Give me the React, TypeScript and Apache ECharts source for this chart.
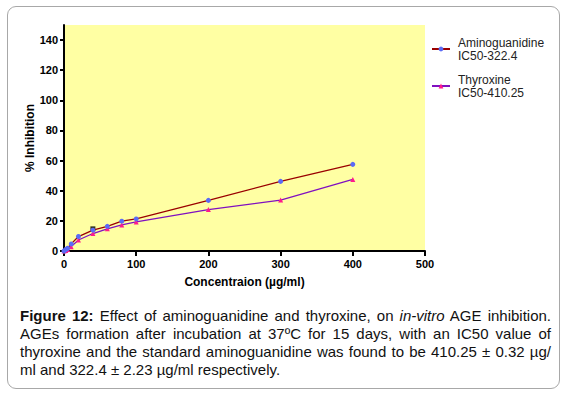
import React, { useEffect, useRef } from "react";
import * as echarts from "echarts";

const concentrations = [0, 2.5, 5, 10, 20, 40, 60, 80, 100, 200, 300, 400];
const aminoguanidine = [0, 1, 1.8, 4.7, 9.6, 13.8, 16.4, 19.8, 21.3, 33.6, 46.2, 57.5];
const thyroxine = [0, 0.4, 1, 2.9, 7.3, 11.6, 14.7, 17.3, 19.3, 27.5, 33.8, 47.5];
const extraPoint = [[40, 14.7]];
const yTicks = [0, 20, 40, 60, 80, 100, 120, 140];
const xTicks = [0, 100, 200, 300, 400, 500];
const seriesNames = ["Aminoguanidine\nIC50-322.4", "Thyroxine\nIC50-410.25"];
const captionLines = [
  "Effect of aminoguanidine and thyroxine, on ",
  "AGEs formation after incubation at 37ºC for 15 days, with an IC50 value of",
  "thyroxine and the standard aminoguanidine was found to be 410.25 ± 0.32 µg/",
  "ml and 322.4 ± 2.23 µg/ml respectively.",
];

const FONT = "'Liberation Sans', Arial, sans-serif";

export default function App() {
  const ref = useRef<HTMLDivElement>(null);
  useEffect(() => {
    const chart = echarts.init(ref.current!, null, { renderer: "svg" });
    chart.setOption({
      animation: false,
      textStyle: { fontFamily: FONT },
      grid: { left: 64, top: 25, right: 146, bottom: 49, show: true, backgroundColor: "#FFFFA3", borderWidth: 0 },
      legend: {
        orient: "vertical",
        left: 431,
        top: 36,
        padding: 0,
        itemWidth: 18,
        itemHeight: 6,
        itemGap: 11,
        data: seriesNames,
        textStyle: { fontFamily: FONT, fontSize: 12, color: "#222", lineHeight: 13, padding: [0, 0, 0, 3] },
      },
      xAxis: {
        type: "value",
        min: 0,
        max: 500,
        interval: 100,
        name: "Concentraion (µg/ml)",
        nameLocation: "middle",
        nameGap: 25,
        nameMoveOverlap: false,
        nameTextStyle: { fontFamily: FONT, fontSize: 12, fontWeight: "bold", color: "#000" },
        axisLine: { show: true, lineStyle: { color: "#000", width: 2 } },
        axisTick: { show: true, length: 5, lineStyle: { color: "#000", width: 2 }, customValues: xTicks },
        axisLabel: { fontFamily: FONT, fontSize: 11, fontWeight: "bold", color: "#000", margin: 7, customValues: xTicks },
        splitLine: { show: false },
      },
      yAxis: {
        type: "value",
        min: 0,
        max: 150,
        name: "% Inhibition",
        nameLocation: "middle",
        nameGap: 28,
        nameMoveOverlap: false,
        nameRotate: 90,
        nameTextStyle: { fontFamily: FONT, fontSize: 12, fontWeight: "bold", color: "#000" },
        axisLine: { show: true, lineStyle: { color: "#000", width: 2 } },
        axisTick: { show: true, length: 4, lineStyle: { color: "#000", width: 2 }, customValues: yTicks },
        axisLabel: { fontFamily: FONT, fontSize: 11, fontWeight: "bold", color: "#000", margin: 6, customValues: yTicks },
        splitLine: { show: false },
      },
      series: [
        {
          name: seriesNames[0],
          type: "line",
          data: concentrations.map((c, i) => [c, aminoguanidine[i]]),
          symbol: "circle",
          symbolSize: 5,
          showAllSymbol: true,
          lineStyle: { color: "#9A0000", width: 1.3 },
          itemStyle: { color: "#5B6BF5" },
          z: 3,
        },
        {
          name: seriesNames[1],
          type: "line",
          data: concentrations.map((c, i) => [c, thyroxine[i]]),
          symbol: "triangle",
          symbolSize: 5,
          showAllSymbol: true,
          lineStyle: { color: "#8010C0", width: 1.3 },
          itemStyle: { color: "#FF1A8C" },
          z: 2,
        },
        {
          name: "extra",
          type: "scatter",
          data: extraPoint,
          symbol: "rect",
          symbolSize: 5,
          itemStyle: { color: "#000" },
          z: 1,
        },
      ],
    });
    return () => chart.dispose();
  }, []);

  const lineStyle: React.CSSProperties = {
    position: "absolute",
    left: 20,
    width: 531,
    fontFamily: FONT,
    fontSize: 15,
    color: "#111",
    whiteSpace: "nowrap",
    lineHeight: "18px",
  };
  const justify: React.CSSProperties = { textAlign: "justify", textAlignLast: "justify" as any };

  return (
    <div style={{ position: "fixed", left: 0, top: 0, width: 571, height: 396, background: "#fff", overflow: "hidden" }}>
      <div
        style={{
          position: "absolute",
          left: 7,
          top: 6,
          width: 553,
          height: 383,
          border: "1px solid #a8a8a8",
          borderRadius: 9,
          boxSizing: "border-box",
        }}
      />
      <div ref={ref} style={{ position: "absolute", left: 0, top: 0, width: 571, height: 300 }} />
      <div style={{ ...lineStyle, ...justify, top: 307 }}>
        <b>Figure 12:</b> {captionLines[0]}
        <i>in-vitro</i> AGE inhibition.
      </div>
      <div style={{ ...lineStyle, ...justify, top: 325 }}>{captionLines[1]}</div>
      <div style={{ ...lineStyle, ...justify, top: 343 }}>{captionLines[2]}</div>
      <div style={{ ...lineStyle, top: 361 }}>{captionLines[3]}</div>
    </div>
  );
}
